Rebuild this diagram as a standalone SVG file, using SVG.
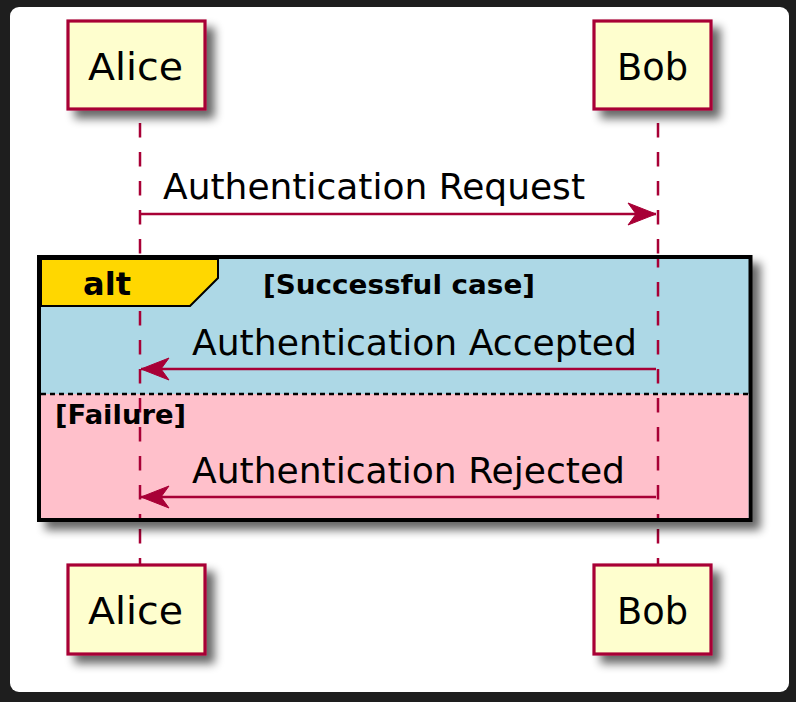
<svg xmlns="http://www.w3.org/2000/svg" width="796" height="702" viewBox="0 0 796 702">
<defs>
<filter id="sh" x="-20%" y="-20%" width="150%" height="150%">
<feGaussianBlur in="SourceAlpha" stdDeviation="5"/>
<feOffset dx="8" dy="8" result="b"/>
<feComponentTransfer><feFuncA type="linear" slope="0.6"/></feComponentTransfer>
<feMerge><feMergeNode/><feMergeNode in="SourceGraphic"/></feMerge>
</filter>
<marker id="ah" markerWidth="30" markerHeight="24" refX="29" refY="12" orient="auto" markerUnits="userSpaceOnUse">
<polygon points="1,1 29,12 1,23 9,12" fill="#A80036" stroke="#A80036" stroke-width="1"/>
</marker>
</defs>
<style>
.part rect{fill:#FEFECE;stroke:#A80036;stroke-width:3.2}
.pt{font-family:"DejaVu Sans",sans-serif;font-size:37px;fill:#000}
.msg{font-family:"DejaVu Sans",sans-serif;font-size:36px;fill:#000}
.life{stroke:#A80036;stroke-width:2.5;stroke-dasharray:14.5,14.5;fill:none}
.arrow{stroke:#A80036;stroke-width:2.5;fill:none;marker-end:url(#ah)}
.bold{font-family:"DejaVu Sans",sans-serif;font-weight:bold;fill:#000}
</style>
<rect x="0" y="0" width="796" height="702" fill="#1e1e1e"/>
<rect x="10" y="7" width="779" height="685" rx="9" fill="#ffffff"/>

<g id="lifelines">
<line class="life" x1="140" y1="123" x2="140" y2="564"/>
<line class="life" x1="658" y1="123" x2="658" y2="564"/>
</g>

<g id="alt">
<rect x="39" y="257" width="711.5" height="263" fill="#ADD8E6" stroke="#000" stroke-width="4" filter="url(#sh)"/>
<rect x="41" y="394" width="707.5" height="124" fill="#FFC0CB"/>
<line x1="140" y1="259" x2="140" y2="518" class="life" stroke-dashoffset="6"/>
<line x1="658" y1="259" x2="658" y2="518" class="life" stroke-dashoffset="6"/>
<line x1="41" y1="394" x2="748.5" y2="394" stroke="#000" stroke-width="2.5" stroke-dasharray="5,4"/>
<path d="M41,259 L218,259 L218,278 L190,306 L41,306 Z" fill="#FFD700" stroke="#000" stroke-width="2"/>
<text class="bold" x="83" y="295" font-size="32" textLength="48" lengthAdjust="spacingAndGlyphs">alt</text>
<text class="bold" x="263" y="294" font-size="27" textLength="272" lengthAdjust="spacingAndGlyphs">[Successful case]</text>
<text class="bold" x="55" y="424" font-size="27" textLength="131" lengthAdjust="spacingAndGlyphs">[Failure]</text>
</g>

<g id="connectors">
<line class="arrow" x1="140" y1="214" x2="656" y2="214"/>
<text class="msg" x="163" y="199" textLength="422" lengthAdjust="spacingAndGlyphs">Authentication Request</text>
<line class="arrow" x1="656" y1="369" x2="141" y2="369"/>
<text class="msg" x="192" y="355" textLength="445" lengthAdjust="spacingAndGlyphs">Authentication Accepted</text>
<line class="arrow" x1="656" y1="497" x2="141" y2="497"/>
<text class="msg" x="192" y="483" textLength="433" lengthAdjust="spacingAndGlyphs">Authentication Rejected</text>
</g>

<g id="alice-top" class="part">
<rect x="68" y="21" width="137" height="88" filter="url(#sh)"/>
<text class="pt" x="88" y="80" textLength="95" lengthAdjust="spacingAndGlyphs">Alice</text>
</g>
<g id="bob-top" class="part">
<rect x="594" y="21" width="117" height="88" filter="url(#sh)"/>
<text class="pt" x="617" y="80" textLength="71" lengthAdjust="spacingAndGlyphs">Bob</text>
</g>
<g id="alice-bottom" class="part">
<rect x="68" y="565" width="137" height="89" filter="url(#sh)"/>
<text class="pt" x="88" y="624" textLength="95" lengthAdjust="spacingAndGlyphs">Alice</text>
</g>
<g id="bob-bottom" class="part">
<rect x="594" y="565" width="117" height="89" filter="url(#sh)"/>
<text class="pt" x="617" y="624" textLength="71" lengthAdjust="spacingAndGlyphs">Bob</text>
</g>
</svg>
